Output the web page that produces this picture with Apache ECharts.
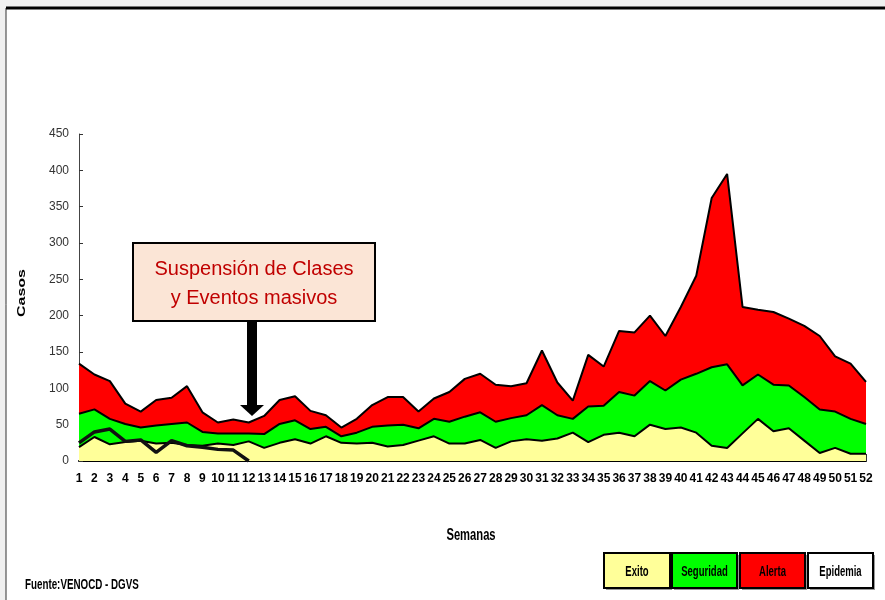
<!DOCTYPE html>
<html>
<head>
<meta charset="utf-8">
<script src="https://cdn.jsdelivr.net/npm/echarts@6/dist/echarts.min.js"></script>
<style>
  html, body { margin: 0; padding: 0; background: #f0f0f0; }
  #main { width: 885px; height: 600px; }
</style>
</head>
<body>
<div id="main"></div>
<script>
// semanas epidemiológicas
var semanas = []
for (var i = 1; i <= 52; i++) semanas.push(String(i))

// canal endémico: límites superiores acumulados de cada zona
var exito = [19, 33, 23, 26, 28, 24, 25, 22, 21, 24, 22, 27, 18, 25, 30, 24, 34, 25, 24, 25,
  20, 22, 28, 34, 24, 24, 29, 18, 27, 30, 28, 31, 39, 26, 36, 39, 34, 50, 44, 46,
  39, 21, 18, 38, 58, 41, 45, 28, 11, 18, 10, 10]
var seguridad = [65, 71, 58, 51, 46, 49, 51, 53, 40, 38, 38, 38, 37, 51, 56, 44, 47, 34, 39, 47,
  49, 50, 45, 58, 54, 61, 67, 54, 59, 63, 77, 63, 58, 75, 76, 95, 90, 110, 97, 112,
  120, 129, 133, 104, 119, 105, 104, 88, 71, 68, 58, 51]
var alerta = [134, 119, 110, 79, 68, 84, 87, 103, 67, 53, 57, 53, 62, 84, 89, 69, 63, 46, 58, 77,
  88, 88, 68, 86, 95, 113, 120, 105, 103, 107, 152, 108, 83, 146, 130, 179, 177, 200, 172, 212,
  255, 362, 395, 212, 208, 205, 196, 186, 172, 144, 134, 109]
// casos del año en curso (semanas 1-12)
var casos = [25, 40, 44, 27, 29, 12, 28, 21, 19, 16, 15, 0]

var yTicks = { min: 0, max: 450, interval: 50 }
var legendItems = [
  { name: 'Exito', color: '#ffff99', x: 604, w: 66 },
  { name: 'Seguridad', color: '#00ff00', x: 672, w: 65 },
  { name: 'Alerta', color: '#ff0000', x: 740, w: 65 },
  { name: 'Epidemia', color: '#ffffff', x: 808, w: 65 }
]

var FONT = '"Liberation Sans", Arial, sans-serif'

var chart = echarts.init(document.getElementById('main'))

function zona (name, data, color) {
  return {
    name: name,
    type: 'line',
    data: data,
    symbol: 'none',
    silent: true,
    lineStyle: { color: '#000', width: 2 },
    areaStyle: { color: color, opacity: 1 }
  }
}

// texto angosto (Arial Narrow en el original)
function narrow (text, x, y, size, sx, align) {
  return {
    type: 'text', x: x, y: y, scaleX: sx,
    style: { text: text, fill: '#000', font: 'bold ' + size + 'px ' + FONT,
      textAlign: align || 'center', textVerticalAlign: 'middle' },
    z: 12
  }
}

var graphics = [
  // marco
  { type: 'rect', shape: { x: 6, y: 8, width: 885, height: 600 },
    style: { fill: '#fff', stroke: '#333', lineWidth: 1 }, z: -10 },
  { type: 'line', shape: { x1: 6, y1: 8, x2: 885, y2: 8 },
    style: { stroke: '#000', lineWidth: 3 }, z: -9 },
  // recuadro de anotación
  { type: 'rect', shape: { x: 133, y: 243, width: 242, height: 78 },
    style: { fill: '#fbe5d6', stroke: '#000', lineWidth: 2 }, z: 20 },
  { type: 'text', x: 254, y: 269,
    style: { text: 'Suspensión de Clases', fill: '#c00000', font: '20px ' + FONT,
      textAlign: 'center', textVerticalAlign: 'middle' }, z: 21 },
  { type: 'text', x: 254, y: 298,
    style: { text: 'y Eventos masivos', fill: '#c00000', font: '20px ' + FONT,
      textAlign: 'center', textVerticalAlign: 'middle' }, z: 21 },
  // flecha
  { type: 'rect', shape: { x: 247, y: 321, width: 10, height: 85 },
    style: { fill: '#000' }, z: 20 },
  { type: 'polygon', shape: { points: [[240, 405], [264, 405], [252, 416]] },
    style: { fill: '#000' }, z: 20 },
  // títulos de ejes y fuente
  narrow('Semanas', 471, 536, 16, 0.7),
  { type: 'text', x: 22, y: 293, rotation: Math.PI / 2, scaleX: 1.45,
    style: { text: 'Casos', fill: '#000', font: 'bold 11px ' + FONT,
      textAlign: 'center', textVerticalAlign: 'middle' } },
  narrow('Fuente:VENOCD - DGVS', 25, 585, 14, 0.7, 'left')
]

legendItems.forEach(function (it) {
  graphics.push({ type: 'rect', shape: { x: it.x + 2, y: 555, width: it.w, height: 35 },
    style: { fill: '#999' }, z: 10 })
  graphics.push({ type: 'rect', shape: { x: it.x, y: 553, width: it.w, height: 35 },
    style: { fill: it.color, stroke: '#000', lineWidth: 2 }, z: 11 })
  graphics.push(narrow(it.name, it.x + it.w / 2, 572, 14, 0.68))
})

chart.setOption({
  animation: false,
  backgroundColor: '#f0f0f0',
  grid: { left: 79, right: 19, top: 134, bottom: 139 },
  xAxis: {
    type: 'category',
    data: semanas,
    boundaryGap: false,
    axisLine: { lineStyle: { color: '#000', width: 2 } },
    axisTick: { alignWithLabel: true, inside: true, length: 7, lineStyle: { color: '#333' } },
    axisLabel: { interval: 0, color: '#000', fontWeight: 'bold', fontSize: 12, fontFamily: FONT, margin: 12 }
  },
  yAxis: {
    type: 'value',
    min: yTicks.min,
    max: yTicks.max,
    interval: yTicks.interval,
    axisLine: { show: true, lineStyle: { color: '#444', width: 1 } },
    axisTick: { show: true, inside: true, length: 4, lineStyle: { color: '#333' } },
    splitLine: { show: false },
    axisLabel: { color: '#333', fontSize: 12, fontFamily: FONT, margin: 10 }
  },
  series: [
    zona('Alerta', alerta, '#ff0000'),
    zona('Seguridad', seguridad, '#00ff00'),
    zona('Exito', exito, '#ffff99'),
    {
      name: 'Casos',
      type: 'line',
      data: casos,
      symbol: 'none',
      silent: true,
      lineStyle: { color: '#111', width: 3.5 },
      z: 5
    }
  ],
  graphic: graphics
})
</script>
</body>
</html>
